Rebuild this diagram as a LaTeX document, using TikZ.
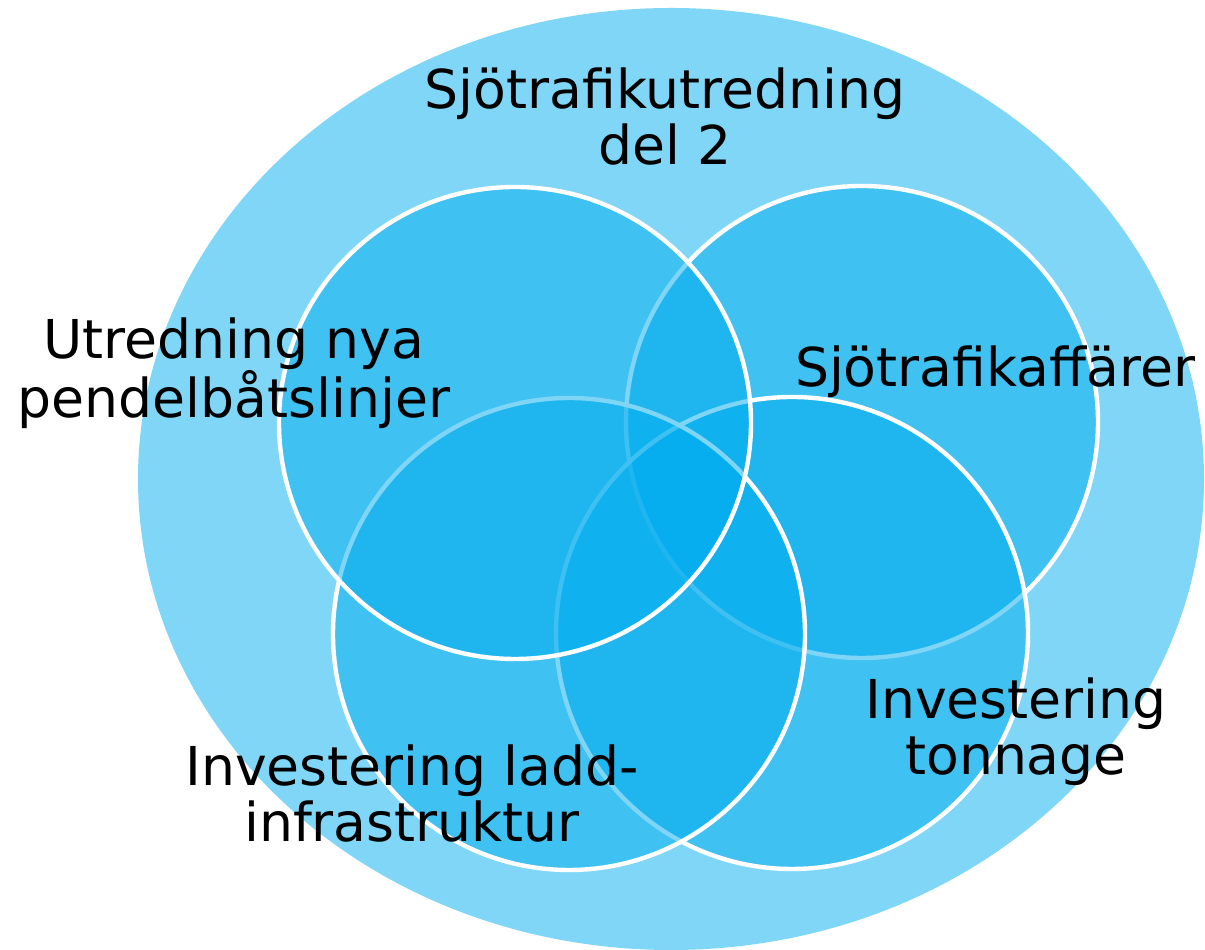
\documentclass[tikz,border=0pt]{standalone}
\usepackage{fontspec}
\setmainfont{DejaVu Sans}
\definecolor{venncyan}{HTML}{00ADEF}
\begin{document}
\begin{tikzpicture}[
        x=0.2mm, y=0.2mm,
        outer ellipse/.style={fill=venncyan!50},
        venn circle/.style={fill=venncyan, fill opacity=0.5, draw=white, line width=2.5pt},
        area label/.style={align=center, anchor=base, inner sep=0pt,
        font=\fontsize{30.5}{32.3}\selectfont},
        every node/.style={color=black}
        ]
        \useasboundingbox (0,0) rectangle (1205,950);
        % Ellipse
        \fill[outer ellipse] (671,471) ellipse [x radius=533, y radius=471];
        % Circles
        \draw[venn circle] (862,528) circle [radius=236];
        \draw[venn circle] (792,317) circle [radius=236];
        \draw[venn circle] (569,316) circle [radius=236];
        \draw[venn circle] (515,527) circle [radius=236];
        % Labels (base = last line)
        \node(utredning)[area label] at (665,785) {Sjötrafikutredning\\del 2};
        \node(pendel)[area label] at (234,532) {Utredning nya\\pendelbåtslinjer};
        \node(affarer)[area label] at (995,563) {Sjötrafikaffärer};
        \node(ladd)[area label] at (412,108) {Investering ladd-\\infrastruktur};
        \node(tonnage)[area label] at (1016,175) {Investering\\tonnage};
\end{tikzpicture}
\end{document}
